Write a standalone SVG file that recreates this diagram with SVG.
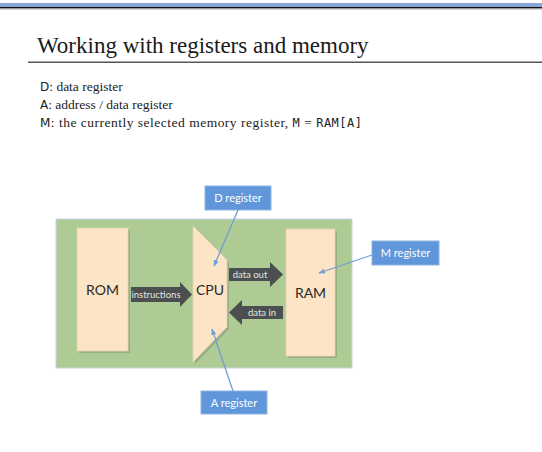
<svg xmlns="http://www.w3.org/2000/svg" width="542" height="452" viewBox="0 0 542 452">
<defs>
<style>
.title{font-family:"Liberation Serif",serif;font-size:23px;fill:#1a1a1a}
.body{font-family:"Liberation Serif",serif;font-size:13.5px;fill:#222}
.sans{font-family:"DejaVu Sans",sans-serif;font-size:12px}
.mono{font-family:"DejaVu Sans Mono",monospace;font-size:12px}
.block{fill:#fce4c6;stroke:#e8d2b4;stroke-width:0.8}
.shadow{fill:#8a9a7c;opacity:0.6}
.big{font-family:"Lato","Liberation Sans",sans-serif;font-size:14px;fill:#2a2a2a;text-anchor:middle}
.arrow{fill:#4b4f4f}
.alab{font-family:"Lato","Liberation Sans",sans-serif;font-size:9.5px;fill:#e4e4e4;text-anchor:middle}
.reg{fill:#6096da;stroke:#8db4e3;stroke-width:1}
.rlab{font-family:"Lato","Liberation Sans",sans-serif;font-size:11px;fill:#ffffff;text-anchor:middle}
.conn{stroke:#6f9fd6;stroke-width:1.3;fill:none}
</style>
<marker id="ah" viewBox="0 0 10 10" refX="9" refY="5" markerWidth="5" markerHeight="5" orient="auto">
<path d="M0,1 L10,5 L0,9 z" fill="#6f9fd6"/>
</marker>
</defs>
<rect x="0" y="0" width="542" height="452" fill="#ffffff"/>
<rect x="0" y="3" width="542" height="4" fill="#86a6d8"/>
<rect x="0" y="7" width="542" height="1.5" fill="#111"/>
<rect x="0" y="8.5" width="542" height="1" fill="#aaa"/>
<text class="title" x="37" y="53">Working with registers and memory</text>
<rect x="28" y="61.5" width="514" height="1.5" fill="#555"/>
<text class="body" x="40" y="91"><tspan class="sans">D</tspan>: data register</text>
<text class="body" x="40" y="109"><tspan class="sans">A</tspan>: address / data register</text>
<text class="body" x="40" y="127" textLength="322" lengthAdjust="spacing"><tspan class="sans">M</tspan>: the currently selected memory register, <tspan class="mono">M</tspan> = <tspan class="mono">RAM[A]</tspan></text>
<g id="board">
<rect x="56" y="219" width="296" height="149" fill="#aecb93" stroke="#c5d8e8" stroke-width="1"/>
</g>
<g id="rom">
<rect class="shadow" x="79" y="230" width="51" height="123"/>
<rect class="block" x="77" y="228" width="51" height="123"/>
<text class="big" x="102.5" y="295">ROM</text>
</g>
<g id="cpu">
<polygon class="shadow" points="195,228 229,262 229,329 195,364"/>
<polygon class="block" points="193,226 227,260 227,327 193,362"/>
<text class="big" x="210" y="295">CPU</text>
</g>
<g id="ram">
<rect class="shadow" x="288" y="231" width="49" height="127"/>
<rect class="block" x="286" y="229" width="49" height="127"/>
<text class="big" x="310.5" y="298">RAM</text>
</g>
<g id="instructions">
<polygon class="arrow" points="131,287 180,287 180,282 192,294.5 180,307 180,302 131,302"/>
<text class="alab" x="156" y="298">instructions</text>
</g>
<g id="data-out">
<polygon class="arrow" points="229,268 270,268 270,262 283,274.5 270,287 270,281 229,281"/>
<text class="alab" x="250" y="278">data out</text>
</g>
<g id="data-in">
<polygon class="arrow" points="283,306 242,306 242,300 229,312.5 242,325 242,319 283,319"/>
<text class="alab" x="262" y="316">data in</text>
</g>
<g id="d-register">
<rect class="reg" x="205" y="186" width="66" height="24"/>
<text class="rlab" x="238" y="202">D register</text>
</g>
<g id="a-register">
<rect class="reg" x="201" y="391" width="66" height="23"/>
<text class="rlab" x="234" y="406.5">A register</text>
</g>
<g id="m-register">
<rect class="reg" x="372" y="241" width="67" height="24"/>
<text class="rlab" x="405.5" y="257">M register</text>
</g>
<g id="connectors">
<line class="conn" x1="238" y1="210" x2="214" y2="266" marker-end="url(#ah)"/>
<line class="conn" x1="233" y1="391" x2="212" y2="329" marker-end="url(#ah)"/>
<line class="conn" x1="372" y1="255" x2="319" y2="273" marker-end="url(#ah)"/>
</g>
</svg>
